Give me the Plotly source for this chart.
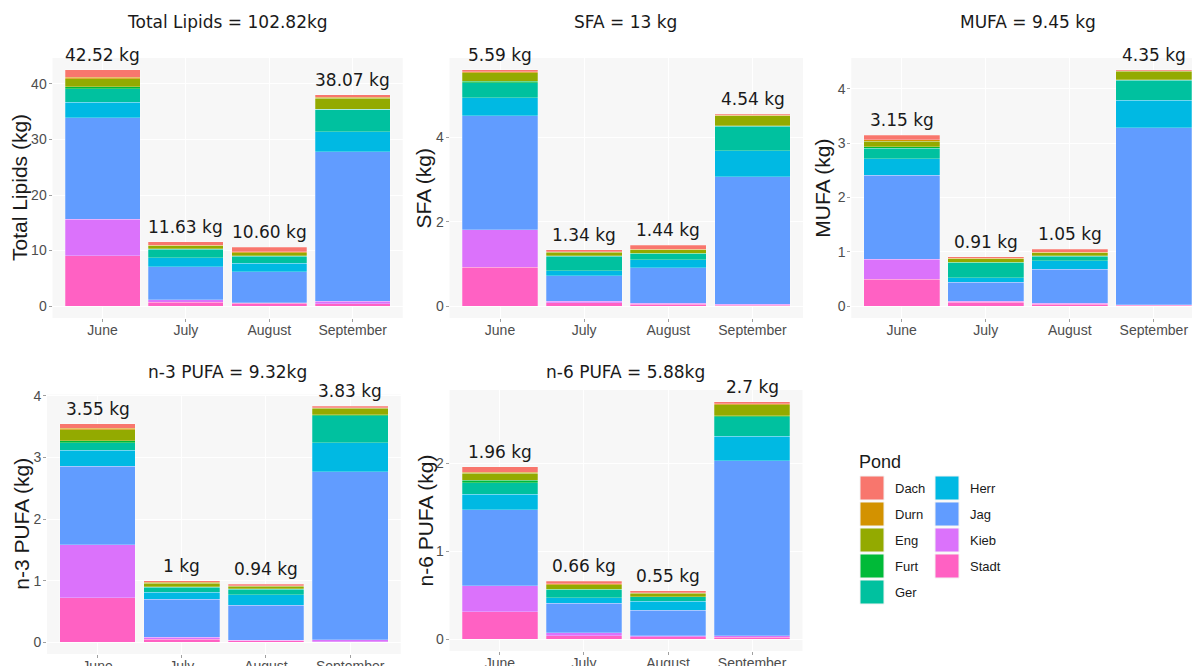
import plotly.graph_objects as go

# ---------------- data ----------------
months = ["June", "July", "August", "September"]
# stacking order, bottom -> top
ponds = ["Stadt", "Kieb", "Jag", "Herr", "Ger", "Furt", "Eng", "Durn", "Dach"]
legend_ponds = ["Dach", "Durn", "Eng", "Furt", "Ger", "Herr", "Jag", "Kieb", "Stadt"]
pond_colors = ["#FF61C3", "#DB72FB", "#619CFF", "#00B9E3", "#00C19F",
               "#00BA38", "#93AA00", "#D39200", "#F8766D"]

# rows follow `ponds`, columns follow `months`
total_lipids = [
    [9.10, 0.70, 0.55, 0.40],
    [6.55, 0.50, 0.10, 0.50],
    [18.25, 5.90, 5.55, 26.90],
    [2.80, 1.60, 1.55, 3.60],
    [2.40, 1.55, 1.25, 4.00],
    [0.40, 0.05, 0.05, 0.05],
    [1.40, 0.60, 0.60, 1.95],
    [0.30, 0.10, 0.15, 0.20],
    [1.32, 0.63, 0.80, 0.47],
]
sfa = [
    [0.92, 0.08, 0.05, 0.02],
    [0.89, 0.04, 0.02, 0.02],
    [2.69, 0.60, 0.84, 3.02],
    [0.43, 0.12, 0.19, 0.62],
    [0.35, 0.34, 0.14, 0.58],
    [0.04, 0.01, 0.01, 0.01],
    [0.20, 0.08, 0.08, 0.23],
    [0.02, 0.02, 0.02, 0.01],
    [0.05, 0.05, 0.09, 0.03],
]
mufa = [
    [0.50, 0.07, 0.04, 0.02],
    [0.36, 0.02, 0.01, 0.01],
    [1.55, 0.35, 0.63, 3.25],
    [0.30, 0.08, 0.16, 0.51],
    [0.20, 0.28, 0.08, 0.37],
    [0.02, 0.01, 0.01, 0.01],
    [0.11, 0.06, 0.05, 0.15],
    [0.02, 0.01, 0.01, 0.01],
    [0.09, 0.03, 0.06, 0.02],
]
n3_pufa = [
    [0.72, 0.05, 0.02, 0.01],
    [0.86, 0.03, 0.01, 0.03],
    [1.28, 0.62, 0.57, 2.73],
    [0.26, 0.11, 0.17, 0.47],
    [0.12, 0.08, 0.09, 0.44],
    [0.03, 0.01, 0.01, 0.01],
    [0.18, 0.06, 0.04, 0.11],
    [0.02, 0.01, 0.01, 0.01],
    [0.08, 0.03, 0.02, 0.02],
]
n6_pufa = [
    [0.31, 0.04, 0.03, 0.02],
    [0.30, 0.03, 0.01, 0.02],
    [0.86, 0.34, 0.29, 1.99],
    [0.18, 0.06, 0.10, 0.28],
    [0.13, 0.09, 0.05, 0.22],
    [0.03, 0.01, 0.005, 0.01],
    [0.08, 0.05, 0.04, 0.13],
    [0.01, 0.01, 0.005, 0.01],
    [0.06, 0.03, 0.02, 0.02],
]

total_lipids_labels = ["42.52 kg", "11.63 kg", "10.60 kg", "38.07 kg"]
sfa_labels = ["5.59 kg", "1.34 kg", "1.44 kg", "4.54 kg"]
mufa_labels = ["3.15 kg", "0.91 kg", "1.05 kg", "4.35 kg"]
n3_labels = ["3.55 kg", "1 kg", "0.94 kg", "3.83 kg"]
n6_labels = ["1.96 kg", "0.66 kg", "0.55 kg", "2.7 kg"]

panel_titles = ["Total Lipids = 102.82kg", "SFA = 13 kg", "MUFA = 9.45 kg",
                "n-3 PUFA = 9.32kg", "n-6 PUFA = 5.88kg"]
y_titles = ["Total Lipids (kg)", "SFA (kg)", "MUFA (kg)", "n-3 PUFA (kg)", "n-6 PUFA (kg)"]
y_ticks = [[0, 10, 20, 30, 40], [0, 2, 4], [0, 1, 2, 3, 4], [0, 1, 2, 3, 4], [0, 1, 2]]

# ---------------- layout geometry (window pixels) ----------------
VW, VH = 1200, 666          # browser window
OFF = 8                     # default page body margin
W, H = VW - OFF, VH - OFF   # figure size so it fills the window exactly


def px(x):
    return (x - OFF) / W


def py(y):
    return 1 - (y - OFF) / H


# (x0, x1, y_top, y_bottom, x-range right end)
panels = [
    (52.5, 402.7, 58, 318, 3.6),
    (449.5, 803.0, 58, 318, 3.6),
    (851.3, 1200.0, 58, 318, 3.55),
    (47.0, 400.7, 394.5, 654, 3.6),
    (449.5, 802.5, 390, 651, 3.6),
]
title_x = [227.6, 626.0, 1027.7, 227.5, 625.8]
title_y = [21.5, 21.5, 21.5, 371.5, 371.5]
ytitle_x = [19, 422.5, 821.7, 21.5, 425]

datasets = [total_lipids, sfa, mufa, n3_pufa, n6_pufa]
label_sets = [total_lipids_labels, sfa_labels, mufa_labels, n3_labels, n6_labels]

PANEL_BG = "#F7F7F7"
SANS = "Liberation Sans, Arial, sans-serif"
TICK_FONT = dict(family=SANS, size=14, color="#4D4D4D")
DV = "DejaVu Sans, sans-serif"

fig = go.Figure()
annotations = []
shapes = []
layout_axes = {}

for i, (data, labels) in enumerate(zip(datasets, label_sets)):
    n = i + 1
    xa = "x" if n == 1 else f"x{n}"
    ya = "y" if n == 1 else f"y{n}"
    x0, x1, yt, yb, xr = panels[i]
    totals = [sum(row[j] for row in data) for j in range(len(months))]
    ymax = max(totals)
    for k, pond in enumerate(ponds):
        fig.add_trace(go.Bar(
            x=months, y=data[k], name=pond, xaxis=xa, yaxis=ya,
            marker=dict(color=pond_colors[k], line=dict(color="rgba(255,255,255,0.5)", width=0.5)),
            showlegend=False, hoverinfo="x+y+name",
        ))
    for j, m in enumerate(months):
        annotations.append(dict(
            x=m, y=totals[j], xref=xa, yref=ya, text=labels[j], showarrow=False,
            yanchor="bottom", yshift=3, font=dict(family=DV, size=17, color="#1A1A1A"),
        ))
    annotations.append(dict(
        x=px(title_x[i]), y=py(title_y[i]), xref="paper", yref="paper", text=panel_titles[i],
        showarrow=False, xanchor="center", yanchor="middle",
        font=dict(family=DV, size=17, color="#1A1A1A"),
    ))
    annotations.append(dict(
        x=px(ytitle_x[i]), y=py((yt + yb) / 2), xref="paper", yref="paper",
        text=y_titles[i], textangle=-90, showarrow=False, xanchor="center", yanchor="middle",
        font=dict(family=SANS, size=21, color="#1A1A1A"),
    ))
    key_x = "xaxis" if n == 1 else f"xaxis{n}"
    key_y = "yaxis" if n == 1 else f"yaxis{n}"
    layout_axes[key_x] = dict(
        domain=[px(x0), min(px(x1), 1.0)], anchor=ya, type="category", range=[-0.6, xr],
        categoryorder="array", categoryarray=months, automargin=False,
        showgrid=True, gridcolor="white", gridwidth=1, zeroline=False, showline=False,
        ticks="outside", ticklen=3, tickcolor="#A0A0A0", tickfont=TICK_FONT, fixedrange=True,
        ticklabelstandoff=-4,
    )
    layout_axes[key_y] = dict(
        domain=[max(py(yb), 0.0), py(yt)], anchor=xa, automargin=False,
        range=[-0.05 * ymax, 1.05 * ymax], tickvals=y_ticks[i],
        showgrid=True, gridcolor="white", gridwidth=1, zeroline=False, showline=False,
        ticks="outside", ticklen=3, tickcolor="#A0A0A0", tickfont=TICK_FONT, fixedrange=True,
        ticklabelstandoff=-1,
    )
    shapes.append(dict(
        type="rect", xref="paper", yref="paper", x0=px(x0), x1=min(px(x1), 1.0),
        y0=max(py(yb), 0.0), y1=py(yt), fillcolor=PANEL_BG, line=dict(width=0), layer="below",
    ))

# ---------------- legend (key boxes + text) ----------------
annotations.append(dict(
    x=px(857), y=py(461.5), xref="paper", yref="paper", text="Pond", showarrow=False,
    xanchor="left", yanchor="middle", font=dict(family=SANS, size=18, color="#1A1A1A"),
))
for idx, pond in enumerate(legend_ponds):
    col, row = divmod(idx, 5)
    kx = 860 + col * 75
    ky = 476 + row * 26
    color = pond_colors[ponds.index(pond)]
    shapes.append(dict(
        type="rect", xref="paper", yref="paper", x0=px(kx), x1=px(kx + 24),
        y0=py(ky + 24), y1=py(ky), fillcolor=color, line=dict(color="#F2F2F2", width=1),
    ))
    annotations.append(dict(
        x=px(kx + 33), y=py(ky + 12), xref="paper", yref="paper", text=pond,
        showarrow=False, xanchor="left", yanchor="middle",
        font=dict(family=SANS, size=13, color="#1A1A1A"),
    ))

fig.update_layout(
    width=W, height=H, margin=dict(l=0, r=0, t=0, b=0, autoexpand=False),
    paper_bgcolor="white", plot_bgcolor="rgba(0,0,0,0)",
    barmode="stack", bargap=0.1, showlegend=False,
    annotations=annotations, shapes=shapes, **layout_axes,
)

fig.write_html("out.html")
